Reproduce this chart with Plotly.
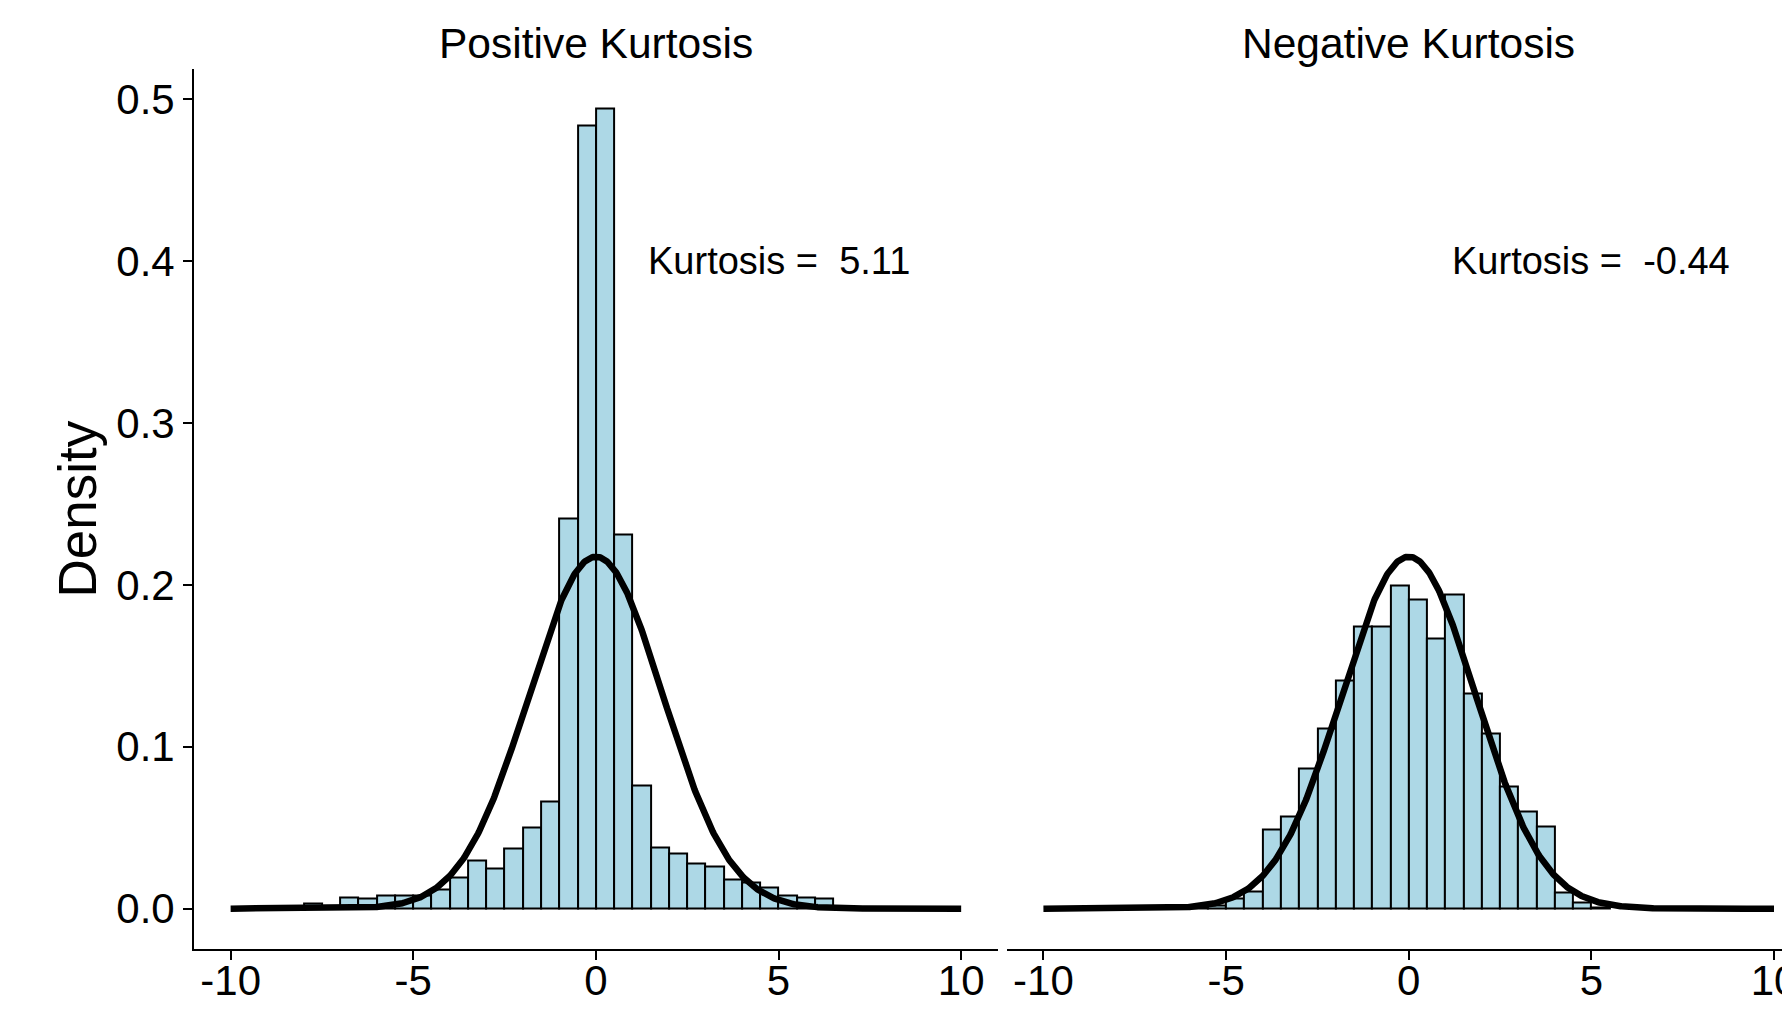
import numpy as np
import plotly.graph_objects as go

# ---------------- data ----------------
bin_width = 0.5

left_bin_mids = [-7.75, -7.25, -6.75, -6.25, -5.75, -5.25, -4.75, -4.25, -3.75, -3.25,
                 -2.75, -2.25, -1.75, -1.25, -0.75, -0.25, 0.25, 0.75, 1.25, 1.75,
                 2.25, 2.75, 3.25, 3.75, 4.25, 4.75, 5.25, 5.75, 6.25, 6.75, 7.25, 7.75]
left_density = [0.003, 0.0, 0.007, 0.006, 0.008, 0.008, 0.008, 0.012, 0.019, 0.030,
                 0.025, 0.037, 0.050, 0.066, 0.241, 0.484, 0.494, 0.231, 0.076, 0.038,
                 0.034, 0.028, 0.026, 0.018, 0.016, 0.013, 0.008, 0.007, 0.006, 0.001, 0.001, 0.001]

right_bin_mids = [-5.75, -5.25, -4.75, -4.25, -3.75, -3.25, -2.75, -2.25, -1.75, -1.25,
                  -0.75, -0.25, 0.25, 0.75, 1.25, 1.75, 2.25, 2.75, 3.25, 3.75,
                  4.25, 4.75, 5.25]
right_density = [0.0005, 0.002, 0.006, 0.0105, 0.049, 0.057, 0.0865, 0.111, 0.141, 0.1745,
                 0.174, 0.1995, 0.191, 0.167, 0.1938, 0.133, 0.1085, 0.0757, 0.0603, 0.0508,
                 0.0097, 0.0035, 0.001]

# reference normal curve overlaid on each panel (stat_function(dnorm))
curve_mean = 0.0
curve_sd = 1.835
curve_from, curve_to = -10, 10

panel_titles = ["Positive Kurtosis", "Negative Kurtosis"]
kurtosis_labels = ["Kurtosis = \u00a05.11", "Kurtosis = \u00a0-0.44"]
label_pos = (5, 0.4)

x_tickvals = [-10, -5, 0, 5, 10]
x_ticktext = ["-10", "-5", "0", "5", "10"]
y_tickvals = [0.0, 0.1, 0.2, 0.3, 0.4, 0.5]
y_ticktext = ["0.0", "0.1", "0.2", "0.3", "0.4", "0.5"]

# ---------------- figure ----------------
FONT = "Liberation Sans, Arial, Helvetica, sans-serif"
FILL = "#ADD8E6"

# page has an 8px body margin: the figure sits at (8, 8) in the window
W, H = 1782, 1007

cx = np.linspace(curve_from, curve_to, 801)
cy = np.exp(-0.5 * ((cx - curve_mean) / curve_sd) ** 2) / (curve_sd * np.sqrt(2 * np.pi))

fig = go.Figure()
for i, (mids, dens) in enumerate([(left_bin_mids, left_density), (right_bin_mids, right_density)]):
    xa = "x" if i == 0 else "x2"
    ya = "y" if i == 0 else "y2"
    fig.add_trace(go.Bar(x=mids, y=dens, width=bin_width, xaxis=xa, yaxis=ya,
                         marker=dict(color=FILL, line=dict(color="black", width=2)),
                         showlegend=False))
    fig.add_trace(go.Scatter(x=cx, y=cy, mode="lines", xaxis=xa, yaxis=ya,
                             line=dict(color="black", width=6.5), showlegend=False))

y_range = [-0.02475, 0.519]
y_dom = [0.06584, 0.93992]
xl_dom = [0.10443, 0.55539]
xr_dom = [0.56055, 1.0]
xr_max = -11 + (1782 - 998.9) / 36.53

common_x = dict(showline=True, linecolor="black", linewidth=2, ticks="outside", ticklen=9,
                tickwidth=2, tickcolor="black", showgrid=False, zeroline=False,
                tickvals=x_tickvals, ticktext=x_ticktext, automargin=False,
                ticklabeloverflow="allow", ticklabelstandoff=-15,
                tickfont=dict(family=FONT, size=42, color="black"))

fig.update_layout(
    width=W, height=H,
    margin=dict(l=0, r=0, t=0, b=0),
    paper_bgcolor="white", plot_bgcolor="white",
    bargap=0,
    font=dict(family=FONT, color="black"),
    xaxis=dict(domain=xl_dom, range=[-11, 11], anchor="y", **common_x),
    xaxis2=dict(domain=xr_dom, range=[-11, xr_max], anchor="y2", **common_x),
    yaxis=dict(domain=y_dom, range=y_range, anchor="x", showline=True, linecolor="black",
               linewidth=2, ticks="outside", ticklen=9, tickwidth=2, tickcolor="black",
               showgrid=False, zeroline=False, tickvals=y_tickvals, ticktext=y_ticktext,
               automargin=False, ticklabeloverflow="allow",
               tickfont=dict(family=FONT, size=42, color="black")),
    yaxis2=dict(domain=y_dom, range=y_range, anchor="x2", showline=False, showticklabels=False,
                ticks="", showgrid=False, zeroline=False),
)

annotations = []
for i, t in enumerate(panel_titles):
    annotations.append(dict(text=t, xref="paper", yref="paper",
                            x=[0.32997, 0.78603][i], y=0.96524, xanchor="center", yanchor="middle",
                            showarrow=False, font=dict(family=FONT, size=42.5, color="black")))
for i, t in enumerate(kurtosis_labels):
    annotations.append(dict(text=t, xref="x" if i == 0 else "x2", yref="y" if i == 0 else "y2",
                            x=label_pos[0], y=label_pos[1], xanchor="center", yanchor="middle",
                            showarrow=False, font=dict(family=FONT, size=38, color="black")))
annotations.append(dict(text="Density", xref="paper", yref="paper", x=0.03928, y=0.50288,
                        xanchor="center", yanchor="middle", textangle=-90, showarrow=False,
                        font=dict(family=FONT, size=53, color="black")))
fig.update_layout(annotations=annotations)

fig.write_html("out.html")
